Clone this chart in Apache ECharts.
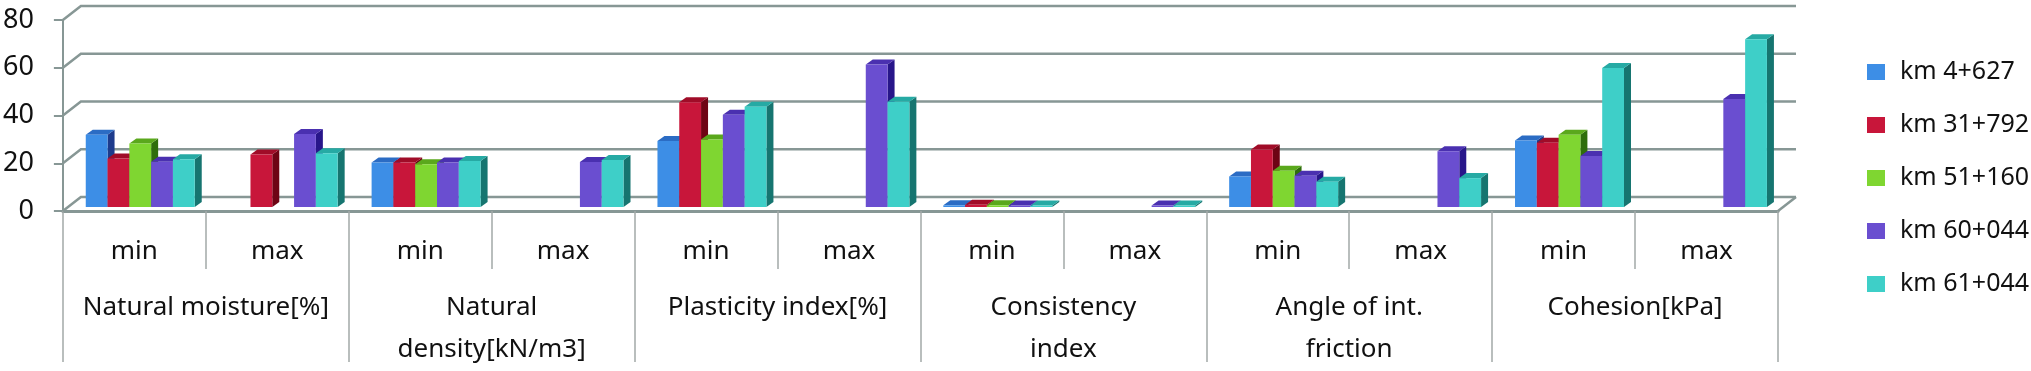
<!DOCTYPE html>
<html>
<head>
<meta charset="utf-8">
<script src="https://cdn.jsdelivr.net/npm/echarts@6/dist/echarts.min.js"></script>
<style>
  html, body { margin: 0; padding: 0; background: #fff; }
  #chart { width: 2031px; height: 371px; }
</style>
</head>
<body>
<div id="chart"></div>
<script>
// sub categories (min / max) and the property groups below them
const categories = ['min', 'max', 'min', 'max', 'min', 'max', 'min', 'max', 'min', 'max', 'min', 'max']
const groups = ['Natural moisture[%]', 'Natural\ndensity[kN/m3]', 'Plasticity index[%]', 'Consistency\nindex', 'Angle of int.\nfriction', 'Cohesion[kPa]']
const seriesNames = ['km 4+627', 'km 31+792', 'km 51+160', 'km 60+044', 'km 61+044']

// values, null = no bar
const km4627 = [30.3, null, 18.6, null, 27.6, null, 0.7, null, 12.8, null, 27.9, null]
const km31792 = [20.3, 22.0, 18.6, null, 43.9, null, 0.9, null, 24.1, null, 26.9, null]
const km51160 = [26.6, null, 17.9, null, 28.3, null, 0.7, null, 15.2, null, 30.3, null]
const km60044 = [19.0, 30.6, 18.6, 18.9, 38.6, 59.7, 0.6, 0.6, 13.1, 23.4, 21.4, 45.2]
const km61044 = [20.0, 22.5, 19.3, 19.7, 42.0, 44.1, 0.6, 0.6, 10.6, 12.1, 58.2, 70.3]
const yTicks = [0, 20, 40, 60, 80]

const seriesValues = [km4627, km31792, km51160, km60044, km61044]
// front / top / side colours of each series
const palette = [
  ['#3d8ee6', '#2b6cc4', '#1d3b8c'],
  ['#c8163a', '#a00c28', '#6e0414'],
  ['#7fd631', '#5aa81c', '#2f6e0c'],
  ['#6a4ed0', '#4a30b0', '#28168a'],
  ['#3ecfc8', '#26aaa4', '#167570']
]

const gridColor = '#879795'
const DEPTH_X = 18, DEPTH_Y = 14  // wall depth
const BAR_DX = 7, BAR_DY = 5      // bar depth
const font = "'Noto Sans', sans-serif"

const chart = echarts.init(document.getElementById('chart'))

// back wall gridlines + side wall diagonals + floor
function renderWalls(params, api) {
  const v = api.value(0)
  const bw = api.size([1, 0])[0]
  const p = api.coord([0, v])
  const left = p[0] - bw / 2
  const right = api.coord([categories.length - 1, v])[0] + bw / 2
  const y = p[1]
  const children = [{
    type: 'polyline',
    shape: { points: [[left, y], [left + DEPTH_X, y - DEPTH_Y], [right + DEPTH_X, y - DEPTH_Y]] },
    style: { stroke: gridColor, lineWidth: 2.5, fill: null }
  }]
  if (v === 0) {
    children.push({
      type: 'line',
      shape: { x1: right, y1: y, x2: right + DEPTH_X, y2: y - DEPTH_Y },
      style: { stroke: gridColor, lineWidth: 2.5 }
    })
  }
  return { type: 'group', children }
}

function barRenderer(i) {
  const [front, top, side] = palette[i]
  return function (params, api) {
    const idx = api.value(0)
    const val = api.value(1)
    const bw = api.size([1, 0])[0]
    const base = api.coord([idx, 0])
    const head = api.coord([idx, val])
    const barW = bw * 0.1525
    const x0 = base[0] - bw / 2 + bw * 0.16 + i * barW
    const x1 = x0 + barW
    const yb = base[1] - 4
    const yt = head[1] - 4
    return {
      type: 'group',
      children: [
        {
          type: 'polygon',
          shape: { points: [[x1, yt], [x1 + BAR_DX, yt - BAR_DY], [x1 + BAR_DX, yb - BAR_DY], [x1, yb]] },
          style: { fill: side }
        },
        {
          type: 'polygon',
          shape: { points: [[x0, yt], [x1, yt], [x1 + BAR_DX, yt - BAR_DY], [x0 + BAR_DX, yt - BAR_DY]] },
          style: { fill: top }
        },
        {
          type: 'rect',
          shape: { x: x0, y: yt, width: barW, height: yb - yt },
          style: { fill: front }
        }
      ]
    }
  }
}

const series = [{
  name: 'walls',
  type: 'custom',
  silent: true,
  renderItem: renderWalls,
  encode: { y: 0 },
  data: yTicks.map(v => [v]),
  z: 1
}]

seriesNames.forEach((name, i) => {
  const data = []
  seriesValues[i].forEach((v, idx) => {
    if (v !== null) data.push([idx, v])
  })
  series.push({
    name,
    type: 'custom',
    renderItem: barRenderer(i),
    encode: { x: 0, y: 1 },
    itemStyle: { color: palette[i][0] },
    data,
    z: 2
  })
})

const option = {
  animation: false,
  backgroundColor: '#fff',
  grid: { left: 62, right: 253, top: 20, bottom: 159 },
  legend: {
    data: seriesNames,
    orient: 'vertical',
    left: 1862,
    top: 52,
    icon: 'rect',
    itemWidth: 18,
    itemHeight: 16,
    itemGap: 23,
    textStyle: { fontSize: 25, lineHeight: 30, color: '#111', fontFamily: font, padding: [0, 0, 0, 10] }
  },
  xAxis: [
    {
      type: 'category',
      data: categories,
      position: 'bottom',
      axisLine: { show: true, lineStyle: { color: gridColor, width: 3 } },
      axisTick: { show: true, length: 58, lineStyle: { color: '#a3a9a8', width: 1.5 } },
      axisLabel: { interval: 0, fontSize: 26, lineHeight: 30, margin: 26, color: '#111', fontFamily: font },
      splitLine: { show: false }
    },
    {
      type: 'category',
      data: groups,
      position: 'bottom',
      axisLine: { show: false },
      axisTick: { show: true, interval: 0, length: 151, lineStyle: { color: '#a3a9a8', width: 1.5 } },
      axisLabel: { interval: 0, fontSize: 26, lineHeight: 42, margin: 76, color: '#111', fontFamily: font },
      splitLine: { show: false }
    }
  ],
  yAxis: {
    type: 'value',
    min: 0,
    max: 80,
    interval: 20,
    axisLine: { show: true, lineStyle: { color: gridColor, width: 2 } },
    axisTick: { show: true, length: 9, lineStyle: { color: gridColor, width: 2 } },
    axisLabel: { fontSize: 27, margin: 29, color: '#111', fontFamily: font },
    splitLine: { show: false }
  },
  series
}

chart.setOption(option)
</script>
</body>
</html>
